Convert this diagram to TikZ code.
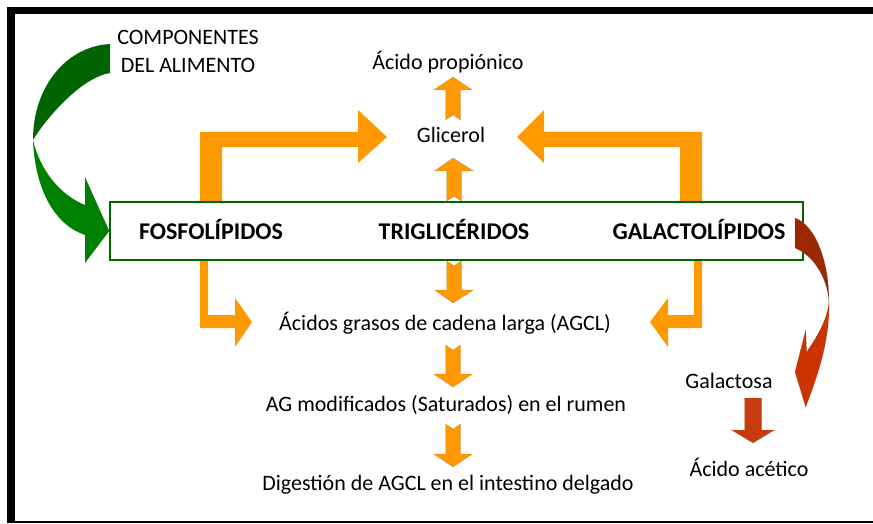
\documentclass[tikz,border=0pt]{standalone}
\usepackage{fontspec}
\setmainfont{Carlito}
\usetikzlibrary{positioning,calc}

\definecolor{arrorange}{RGB}{255,153,0}
\definecolor{boxgreen}{RGB}{0,102,0}
\definecolor{darkgreen}{RGB}{0,100,0}
\definecolor{lightgreen}{RGB}{0,128,0}
\definecolor{darkbrown}{RGB}{156,40,0}
\definecolor{lightbrown}{RGB}{204,51,0}
\definecolor{galbrown}{RGB}{198,60,12}

\tikzset{
    txt/.style={anchor=base, inner sep=0pt, font=\fontsize{22}{26}\selectfont},
    lipid/.style={anchor=base, inner sep=0pt, font=\fontsize{24}{28}\selectfont\bfseries},
    elbow/.style={fill=arrorange, draw=none},
    dotarr/.style={fill=arrorange, draw=black!65, densely dotted, line width=0.4pt},
    }

% vertical block arrow: tail, tip, notch depth
\newcommand{\shafthw}{7.5pt}
\newcommand{\headhw}{19.5pt}
\newcommand{\blockarrow}[4][]{%
  \path[#1] let \p1=(#2), \p2=(#3), \n1={sign(\y2-\y1)} in
    ({\x1-\shafthw},\y1) -- (\x1,{\y1+(#4)*(\n1)}) -- ({\x1+\shafthw},\y1)
    -- ({\x1+\shafthw},{\y2-13pt*(\n1)}) -- ({\x1+\headhw},{\y2-13pt*(\n1)})
    -- (\x2,\y2) -- ({\x1-\headhw},{\y2-13pt*(\n1)})
    -- ({\x1-\shafthw},{\y2-13pt*(\n1)}) -- cycle;}

\begin{document}
\begin{tikzpicture}[x=1pt, y=-1pt]
    \useasboundingbox (0,0) rectangle (873,524);
    % frame
    \fill[black] (7,7) rectangle (873,14);
    \fill[black] (7,7) rectangle (15,523);
    \fill[black] (7,521) rectangle (873,523);

    % bent arrows
    \path[elbow] (200,202) -- (200,132) -- (358,132) -- (358,110) -- (387,137)
        -- (358,163) -- (358,147) -- (222,147) -- (222,202) -- cycle;
    \path[elbow] (702,202) -- (702,132) -- (544,132) -- (544,110) -- (517,137)
        -- (544,163) -- (544,147) -- (680,147) -- (680,202) -- cycle;
    \path[elbow] (200,260) -- (200,328) -- (235,328) -- (235,347) -- (252,322)
        -- (235,298) -- (235,315) -- (208,315) -- (208,260) -- cycle;
    \path[elbow] (702,260) -- (702,328) -- (668,328) -- (668,347) -- (650,322)
        -- (668,298) -- (668,315) -- (694,315) -- (694,260) -- cycle;

    % lipids
    \node[draw=boxgreen, line width=1.5pt, fill=white, minimum width=693pt,
          minimum height=58pt] (box) at (456.5,231) {};
    \node[lipid] (fos) at (211,239) {FOSFOLÍPIDOS};
    \node[lipid] (tri) at (454,239) {TRIGLICÉRIDOS};
    \node[lipid] (gal) at (699,239) {GALACTOLÍPIDOS};

    % texts
    \node[txt] (comp) at (188,45) {COMPONENTES};
    \node[txt] (alim) at (188,73) {DEL ALIMENTO};
    \node[txt] (prop) at (448,70) {Ácido propiónico};
    \node[txt] (gli) at (451,143) {Glicerol};
    \node[txt] (agcl) at (445,330) {Ácidos grasos de cadena larga (AGCL)};
    \node[txt] (agmod) at (446,411) {AG modificados (Saturados) en el rumen};
    \node[txt] (dig) at (448,490) {Digestión de AGCL en el intestino delgado};
    \node[txt] (galac) at (729,388) {Galactosa};
    \node[txt] (acet) at (749,476) {Ácido acético};

    \coordinate (propin) at (453,77);
    \coordinate (gliout) at (453,120);
    \coordinate (gliin) at (453,158);
    \coordinate (agclin) at (453,303);
    \coordinate (agclout) at (453,345);
    \coordinate (agmodin) at (453,387);
    \coordinate (agmodout) at (453,424);
    \coordinate (digin) at (453,467);
    \coordinate (galout) at (753,398);
    \coordinate (acetin) at (753,443);

    \blockarrow[dotarr]{gliout}{propin}{5pt}
    \blockarrow[dotarr]{tri |- box.north}{gliin}{5pt}
    \blockarrow[dotarr]{tri |- box.south}{agclin}{5pt}
    \blockarrow[dotarr]{agclout}{agmodin}{5pt}
    \blockarrow[dotarr]{agmodout}{digin}{5pt}
    {\renewcommand{\shafthw}{8.5pt}\renewcommand{\headhw}{21.5pt}
     \blockarrow[dotarr, fill=galbrown]{galout}{acetin}{0pt}}

    % curved arrow into the box
    \fill[darkgreen] (110,44) .. controls (68,46) and (33,85) .. (33,140)
        .. controls (45,120) and (80,78) .. (110,73) -- cycle;
    \fill[lightgreen] (33,140) .. controls (35,190) and (55,225) .. (85,235)
        -- (85,263) -- (box.west) -- (85,177) -- (85,205)
        .. controls (60,195) and (40,170) .. (33,140) -- cycle;

    % curved arrow out of the box
    \path[dotarr, fill=darkbrown] (795,218) .. controls (815,225) and (829,260) .. (829,302)
        .. controls (827,275) and (812,255) .. (795,248) -- cycle;
    \path[dotarr, fill=lightbrown] (829,302) .. controls (830,340) and (818,375) .. (805.7,407)
        -- (795,372) -- (805.7,330) -- (806.7,352)
        .. controls (818,335) and (827,320) .. (829,302) -- cycle;
\end{tikzpicture}
\end{document}
